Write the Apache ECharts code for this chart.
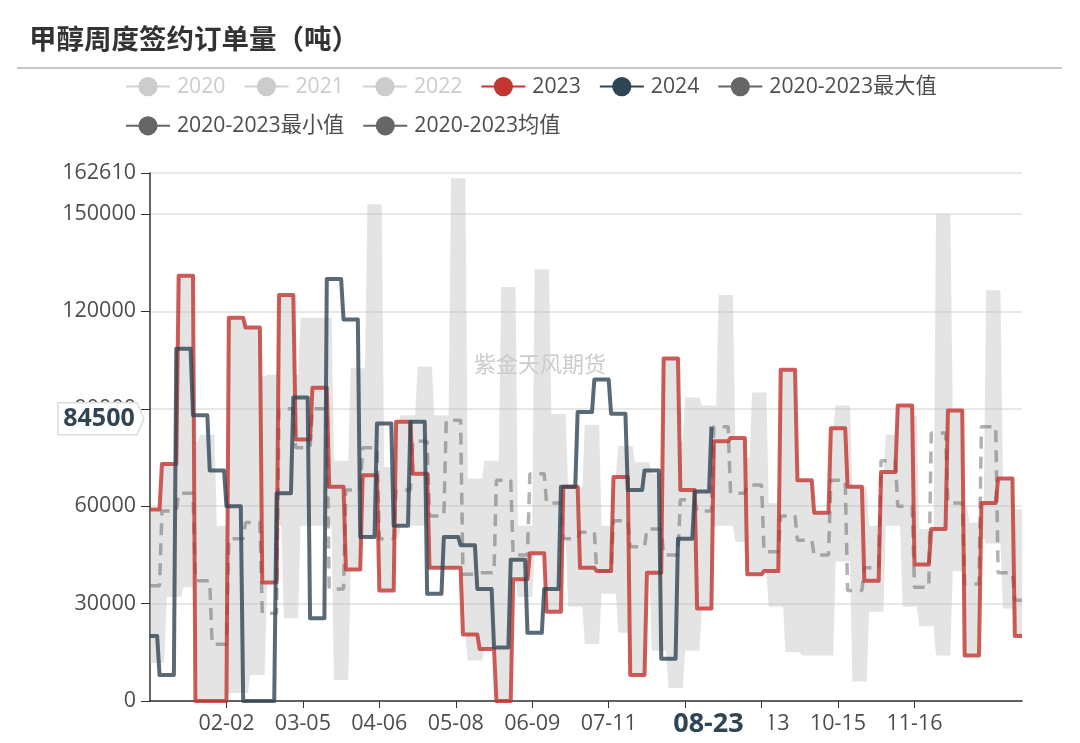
<!DOCTYPE html>
<html>
<head>
<meta charset="utf-8">
<style>
    html, body {margin: 0; padding: 0; background: #fff;}
    #chart {width: 1080px; height: 743px;}
</style>
<script src="https://cdn.jsdelivr.net/npm/echarts@6/dist/echarts.min.js"></script>
</head>
<body>
<div id="chart"></div>
<script>
const FONT = '"Open Sans","Noto Sans CJK SC",sans-serif';
const MONTH_DAYS = [31, 29, 31, 30, 31, 30, 31, 31, 30, 31, 30, 31];

// weekly readings, 53-54 values per year
const weekly2023 = [59000, 73000, 131000, 0, 0, 118000, 115000, 36500, 125000, 80500, 96500, 66000, 40500, 69500, 34000, 86000, 70000, 41000, 41000, 20500, 16000, 0, 37500, 45500, 27500, 66000, 41000, 40000, 69000, 8000, 39500, 105500, 65000, 28500, 80000, 81000, 39000, 40000, 102000, 68000, 58000, 84000, 66000, 37000, 70500, 91000, 42000, 53000, 89500, 14000, 61000, 68500, 20000];
const weekly2024 = [20000, 8000, 108500, 88000, 71000, 60000, 0, 0, 64000, 93500, 25500, 130000, 117500, 50500, 85500, 54000, 86000, 33000, 50500, 48000, 34500, 16500, 43500, 21000, 34500, 66000, 89000, 99000, 88500, 65000, 71000, 13000, 50000, 64500, 84500];
// band of the earlier years, 2023 is merged in below
const earlierMax = [59000, 73000, 80000, 82000, 54000, 100000, 100000, 100500, 100500, 118000, 118000, 74000, 102500, 153000, 72000, 88000, 103000, 88000, 161000, 68500, 74000, 127500, 54000, 133000, 88500, 66000, 85000, 54000, 78500, 73500, 70000, 80000, 93500, 91000, 125000, 75000, 95000, 61000, 61000, 55000, 55000, 91000, 66000, 54000, 82000, 88000, 53000, 150000, 60000, 55000, 126500, 59000, 59000];
const earlierMin = [11700, 32000, 35000, 35000, 2500, 2500, 8000, 54000, 25500, 54000, 54000, 6500, 50500, 50500, 50000, 54000, 54000, 50000, 50000, 12500, 40000, 40000, 32000, 50000, 50000, 29000, 17500, 33000, 21000, 40000, 15500, 4000, 15500, 54000, 54000, 49000, 50000, 29000, 15000, 14000, 14000, 43000, 6000, 27500, 54000, 29000, 23000, 14000, 40000, 50000, 48500, 28500, 28500];
const weeklyMean = [35500, 58500, 64000, 37000, 17500, 50000, 55000, 27000, 90000, 78000, 90000, 34500, 65000, 78000, 50000, 65000, 80000, 57000, 86500, 39000, 39500, 68000, 45000, 70000, 61000, 50000, 52000, 40000, 55500, 47500, 53000, 45000, 62000, 58500, 84500, 64000, 66500, 46000, 57000, 49500, 45000, 68000, 34000, 41000, 74000, 60000, 35000, 82500, 61000, 36000, 84500, 39500, 31000];
const yMax = 162610;
const lastDate = '08-23';
const lastValue = 84500;

const days = [];
MONTH_DAYS.forEach((n, m) => {
    for (let d = 1; d <= n; d++) {
        days.push(String(m + 1).padStart(2, '0') + '-' + String(d).padStart(2, '0'));
    }
});

// weekly figures are carried forward over the days of the week
const toDaily = (weeks, firstLen, carryLast) => {
    const out = [];
    for (let i = 0; i < days.length; i++) {
        const idx = i < firstLen ? 0 : 1 + Math.floor((i - firstLen) / 7);
        if (idx < weeks.length) out.push(weeks[idx]);
        else if (carryLast) out.push(weeks[weeks.length - 1]);
    }
    return out;
};

const daily2023 = toDaily(weekly2023, 5, true);
const daily2024 = toDaily(weekly2024, 4, false).slice(0, days.indexOf(lastDate) + 1);
const dailyMean = toDaily(weeklyMean, 5, true);
const bandMax = toDaily(earlierMax, 7, true).map((v, i) => Math.max(v, daily2023[i]));
const bandMin = toDaily(earlierMin, 7, true).map((v, i) => Math.min(v, daily2023[i]));
const bandSpan = bandMax.map((v, i) => v - bandMin[i]);

const chart = echarts.init(document.getElementById('chart'));

const blank = name => ({name, type: 'line', data: [], symbol: 'circle', showSymbol: false, itemStyle: {color: '#666'}});

const option = {
    animation: false,
    title: {
        text: '甲醇周度签约订单量（吨）',
        left: 29,
        top: 27,
        padding: 0,
        textStyle: {fontFamily: FONT, fontSize: 27.5, fontWeight: 'bold', color: '#333'}
    },
    legend: {
        left: 125,
        top: 76,
        padding: 0,
        width: 840,
        itemWidth: 44,
        itemHeight: 24,
        itemGap: 18,
        selected: {'2020': false, '2021': false, '2022': false},
        inactiveColor: '#ccc',
        lineStyle: {width: 2, opacity: 1, type: 'solid'},
        textStyle: {fontFamily: FONT, fontSize: 21.2, color: '#4d4d4d', padding: [0, 0, 0, 2]},
        data: ['2020', '2021', '2022', '2023', '2024', '2020-2023最大值', '2020-2023最小值', '2020-2023均值']
    },
    grid: {left: 150, right: 58, top: 173, bottom: 42},
    xAxis: {
        type: 'category',
        data: days,
        boundaryGap: false,
        axisLine: {lineStyle: {color: '#333', width: 1.5}},
        axisTick: {length: 7, interval: i => i > 0 && i % 32 === 0 && i < 350},
        axisLabel: {
            interval: i => i > 0 && i % 32 === 0 && i < 350,
            fontFamily: FONT, fontSize: 21.5, color: '#4d4d4d', margin: 12
        },
        splitLine: {show: false},
        axisPointer: {
            show: true,
            value: days.indexOf(lastDate),
            status: 'show',
            triggerTooltip: false,
            lineStyle: {opacity: 0},
            label: {
                show: true,
                margin: 8,
                padding: [2, 26, 2, 20],
                backgroundColor: '#fff',
                fontFamily: FONT, fontSize: 27, fontWeight: 'bold', color: '#2f4554'
            }
        }
    },
    yAxis: {
        type: 'value',
        min: 0,
        max: yMax,
        interval: 30000,
        axisLine: {show: true, lineStyle: {color: '#333', width: 1.5}},
        axisTick: {show: true, length: 9},
        axisLabel: {formatter: v => String(v), fontFamily: FONT, fontSize: 21.5, color: '#4d4d4d', margin: 14},
        splitLine: {lineStyle: {color: '#e8e8e8', width: 2}}
    },
    series: [
        blank('2020'),
        blank('2021'),
        blank('2022'),
        {
            name: '2020-2023最小值', type: 'line', stack: 'band', data: bandMin,
            symbol: 'circle', showSymbol: false, z: 1,
            itemStyle: {color: '#666'}, lineStyle: {width: 0}
        },
        {
            name: '2020-2023最大值', type: 'line', stack: 'band', data: bandSpan,
            symbol: 'circle', showSymbol: false, z: 1,
            itemStyle: {color: '#666'}, lineStyle: {width: 0},
            areaStyle: {color: '#bbb', opacity: 0.4}
        },
        {
            name: '2020-2023均值', type: 'line', data: dailyMean,
            symbol: 'circle', showSymbol: false, z: 2,
            itemStyle: {color: '#666'},
            lineStyle: {color: '#666', opacity: 0.5, width: 3.5, type: [12, 8]}
        },
        {
            name: '2023', type: 'line', data: daily2023,
            symbol: 'circle', showSymbol: false, z: 3,
            itemStyle: {color: '#c23531'},
            lineStyle: {color: '#c23531', opacity: 0.8, width: 4, join: 'round'}
        },
        {
            name: '2024', type: 'line', data: daily2024,
            symbol: 'circle', showSymbol: false, z: 4,
            itemStyle: {color: '#2f4554'},
            lineStyle: {color: '#2f4554', opacity: 0.8, width: 4, join: 'round'}
        }
    ]
};
chart.setOption(option);

// tag on the y axis with the latest value, and the watermark
const tagY = chart.convertToPixel({yAxisIndex: 0}, lastValue) - 8;
chart.setOption({
    graphic: [
        {
            type: 'text', left: 474, top: 355, silent: true, z: 5,
            style: {text: '紫金天风期货', fontFamily: FONT, fontSize: 22, fill: '#ccc'}
        },
        {
            type: 'polygon', z: 20, silent: true,
            shape: {points: [[58, tagY - 16], [137, tagY - 16], [144, tagY], [137, tagY + 16], [58, tagY + 16]]},
            style: {fill: '#fff', stroke: '#ddd', lineWidth: 1.5}
        },
        {
            type: 'text', x: 99, y: tagY, z: 21, silent: true,
            style: {text: String(lastValue), fontFamily: FONT, fontSize: 25, fontWeight: 'bold', fill: '#2f4554', align: 'center', verticalAlign: 'middle'}
        },
        {
            type: 'line', z: 20, silent: true,
            shape: {x1: 17, y1: 68, x2: 1062, y2: 68},
            style: {stroke: '#c8c8c8', lineWidth: 2}
        }
    ]
});
</script>
</body>
</html>
